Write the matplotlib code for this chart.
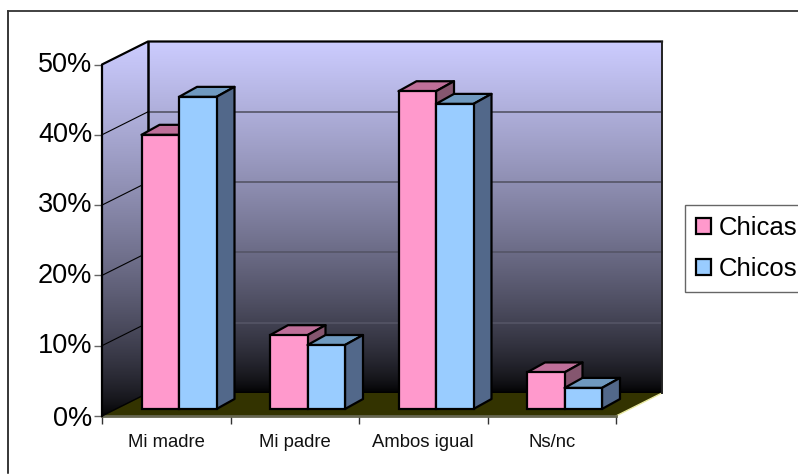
import numpy as np
import matplotlib
matplotlib.use('Agg')
import matplotlib.pyplot as plt
from matplotlib.lines import Line2D
from matplotlib.patches import Polygon, Rectangle
from matplotlib.transforms import ScaledTranslation

plt.rcParams['font.family'] = ['Liberation Sans', 'DejaVu Sans']

categories = ['Mi madre', 'Mi padre', 'Ambos igual', 'Ns/nc']
chicas = [39, 10.5, 45.2, 5.2]
chicos = [44.4, 9.1, 43.4, 3]
y_ticks = [0, 10, 20, 30, 40, 50]

W, H = 798, 474
# front plane of the axes, in pixels
left, right, top, bottom = 102, 616, 64.5, 416

fig = plt.figure(figsize=(W / 100, H / 100), dpi=100, facecolor='white')
ax = fig.add_axes([left / W, 1 - bottom / H, (right - left) / W, (bottom - top) / H])
ax.patch.set_visible(False)
for s in ax.spines.values():
    s.set_visible(False)

px = 4 / (right - left)
py = 50 / (bottom - top)
wall_dx, wall_dy = 46 * px, 23 * py
bar_dx, bar_dy = 18 * px, 10 * py
base_dx, base_dy = 14 * px, 7 * py
bar_w = 37.5 * px
bar_off = 25.5 * px

# gradient walls
grad = (np.linspace(0, 1, 256) ** 0.7).reshape(-1, 1, 1) * (np.array([204, 204, 255]) / 255)
ax.imshow(grad, extent=(wall_dx, 4 + wall_dx, wall_dy, 50 + wall_dy), origin='lower',
          aspect='auto', zorder=1, clip_on=False, interpolation='bilinear')
side_poly = Polygon([(0, 0), (wall_dx, wall_dy), (wall_dx, 50 + wall_dy), (0, 50)],
                    closed=True, fc='none', ec='none')
ax.add_patch(side_poly)
side = ax.imshow(grad, extent=(0, wall_dx, 0, 50 + wall_dy), origin='lower',
                 aspect='auto', zorder=1, interpolation='bilinear')
side.set_clip_path(side_poly)
side.set_clip_box(fig.bbox)
ax.set_xlim(0, 4)
ax.set_ylim(0, 50)

# floor
ax.add_patch(Polygon([(0, 0), (wall_dx, wall_dy), (4 + wall_dx, wall_dy), (4, 0)], closed=True,
                     fc='#333300', ec='none', zorder=2, clip_on=False))
ax.plot([4, 4 + wall_dx], [0, wall_dy], color='#e8e8a0', lw=1, zorder=2, clip_on=False)
ax.plot([0, 4], [0, 0], color='#666650', lw=2, zorder=2, clip_on=False)

# gridlines on the walls
for t in y_ticks[1:-1]:
    ax.plot([0, wall_dx], [t, t + wall_dy], color='black', lw=0.8, zorder=3, clip_on=False)
    ax.plot([wall_dx, 4 + wall_dx], [t + wall_dy, t + wall_dy], color='#555566', lw=1.2, zorder=2, clip_on=False)

# wall outlines
ax.plot([0, 0, wall_dx, 4 + wall_dx], [0, 50, 50 + wall_dy, 50 + wall_dy], color='black', lw=1.6, zorder=3, clip_on=False)
ax.plot([wall_dx, wall_dx], [wall_dy, 50 + wall_dy], color='black', lw=1.8, zorder=3, clip_on=False)
ax.plot([0, wall_dx], [0, wall_dy], color='black', lw=1, zorder=3, clip_on=False)
ax.plot([4 + wall_dx, 4 + wall_dx], [wall_dy, 50 + wall_dy], color='#222222', lw=1.4, zorder=3, clip_on=False)


def draw_bar(x0, val, front, top_c, side_c, z):
    x = x0 + base_dx
    b = base_dy
    t = val + base_dy
    ax.bar(x, val, bar_w, bottom=b, align='edge', color=front, edgecolor='black', lw=1.6, zorder=z + 0.2, clip_on=False)
    ax.add_patch(Polygon([(x, t), (x + bar_dx, t + bar_dy), (x + bar_w + bar_dx, t + bar_dy), (x + bar_w, t)],
                         closed=True, fc=top_c, ec='black', lw=1.6, zorder=z, clip_on=False, joinstyle='round'))
    ax.add_patch(Polygon([(x + bar_w, b), (x + bar_w + bar_dx, b + bar_dy), (x + bar_w + bar_dx, t + bar_dy), (x + bar_w, t)],
                         closed=True, fc=side_c, ec='black', lw=1.6, zorder=z, clip_on=False, joinstyle='round'))


for i in range(len(categories)):
    draw_bar(i + bar_off, chicas[i], '#FF99CC', '#BF6F99', '#85566F', 4 + i)
    draw_bar(i + bar_off + bar_w, chicos[i], '#99CCFF', '#6F99BF', '#52688A', 4.5 + i)

# axes ticks and labels
ax.set_yticks(y_ticks)
ax.set_yticklabels([f'{t}%' for t in y_ticks], fontsize=19.5, color='black')
ax.set_xticks(range(5))
ax.set_xticklabels([])
ax.set_xticks(np.arange(4) + 0.5, minor=True)
ax.set_xticklabels(categories, minor=True, fontsize=13.3, color='#111111')
ax.tick_params(axis='y', length=6, width=1, color='#666666', pad=1)
ax.tick_params(axis='x', which='major', length=6, width=1, color='#333333')
ax.tick_params(axis='x', which='minor', length=0, pad=13)

# tick labels sit a little above their ticks
up = ScaledTranslation(0, 2 / 72, fig.dpi_scale_trans)
for lab in ax.get_yticklabels()[1:]:
    lab.set_transform(lab.get_transform() + up)

# legend box
h = [Rectangle((0, 0), 1, 1, fc='#FF99CC', ec='black', lw=1.6),
     Rectangle((0, 0), 1, 1, fc='#99CCFF', ec='black', lw=1.6)]
fig.legend(h, ['Chicas', 'Chicos'], loc='upper left', bbox_to_anchor=(685 / W, 1 - 205 / H),
           bbox_transform=fig.transFigure, fontsize=18.5, frameon=True, fancybox=False, edgecolor='#666666',
           framealpha=1, handlelength=0.6, handleheight=0.6, handletextpad=0.3, labelspacing=0.66,
           borderpad=0.42, borderaxespad=0)

# chart frame: only the top and left edges are inside the image
fig.add_artist(Line2D([8 / W, 8 / W], [0.002, 1 - 11 / H], color='black', lw=1.1, transform=fig.transFigure))
fig.add_artist(Line2D([8 / W, 1], [1 - 11 / H, 1 - 11 / H], color='#333333', lw=1.3, transform=fig.transFigure))

fig.savefig('out.png', dpi=100)
